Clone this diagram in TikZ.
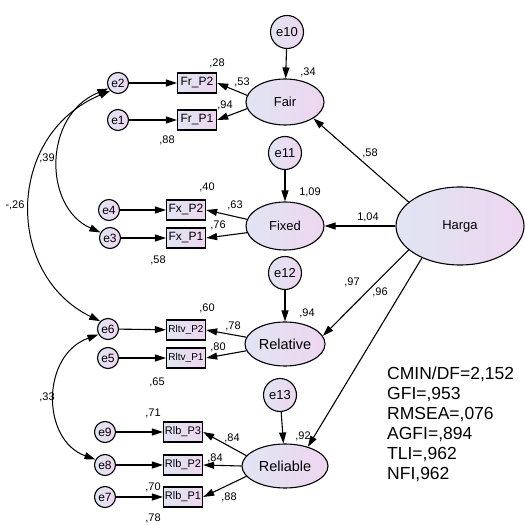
\documentclass[tikz,border=0pt]{standalone}
\usepackage{fontspec}
\setmainfont{Liberation Sans}
\usetikzlibrary{arrows.meta,shapes.geometric}
\definecolor{shadeL}{RGB}{224,229,242}
\definecolor{shadeR}{RGB}{238,214,240}
\begin{document}
\begin{tikzpicture}[x=1pt,y=1pt,>={Triangle[length=11pt,width=7pt]},
  err/.style={circle,draw,line width=1.1pt,left color=shadeL,right color=shadeR,minimum size=21pt,inner sep=0pt,font=\fontsize{12}{12}\selectfont},
  bigerr/.style={err,minimum size=33pt,font=\fontsize{13}{13}\selectfont},
  item/.style={rectangle,draw,line width=1.3pt,left color=shadeL,right color=shadeR,minimum width=39pt,minimum height=20pt,inner sep=0pt,font=\fontsize{12}{12}\selectfont},
  latent/.style={ellipse,draw,line width=1.1pt,left color=shadeL,right color=shadeR,inner sep=0pt,minimum width=78pt,minimum height=46pt,font=\fontsize{13}{13}\selectfont},
  est/.style={inner sep=0pt,font=\fontsize{11}{11}\selectfont},
  arr/.style={->,line width=1.1pt}]
\useasboundingbox (0,0) rectangle (525,525);

% Fair
\node[bigerr] (e10) at (287,493) {e10};
\node[latent] (fair) at (285,423) {Fair};
\node[item] (frp2) at (197,442) {Fr\_P2};
\node[item] (frp1) at (197,405) {Fr\_P1};
\node[err] (e2) at (118,442) {e2};
\node[err] (e1) at (118,405) {e1};

% Fixed
\node[bigerr] (e11) at (285,372) {e11};
\node[latent,minimum height=48pt] (fixed) at (285,299) {Fixed};
\node[item] (fxp2) at (186,315) {Fx\_P2};
\node[item] (fxp1) at (186,287) {Fx\_P1};
\node[err] (e4) at (109,315) {e4};
\node[err] (e3) at (110,287) {e3};

% Relative
\node[bigerr] (e12) at (285,252) {e12};
\node[latent,minimum width=80pt,minimum height=44pt,font=\fontsize{14.5}{14.5}\selectfont] (relative) at (285,181) {Relative};
\node[item,font=\fontsize{10}{10}\selectfont] (rltvp2) at (186,195) {Rltv\_P2};
\node[item,font=\fontsize{10}{10}\selectfont] (rltvp1) at (186,167) {Rltv\_P1};
\node[err] (e6) at (108,196) {e6};
\node[err] (e5) at (108,167) {e5};

% Reliable
\node[bigerr] (e13) at (280,130) {e13};
\node[latent,minimum width=86pt,minimum height=44pt,font=\fontsize{14.5}{14.5}\selectfont] (reliable) at (285,59) {Reliable};
\node[item,font=\fontsize{11}{11}\selectfont] (rlbp3) at (183,93) {Rlb\_P3};
\node[item,font=\fontsize{11}{11}\selectfont] (rlbp2) at (183,60) {Rlb\_P2};
\node[item,font=\fontsize{11}{11}\selectfont] (rlbp1) at (183,28) {Rlb\_P1};
\node[err] (e9) at (105,93) {e9};
\node[err] (e8) at (105,60) {e8};
\node[err] (e7) at (105,28) {e7};

\node[latent,minimum width=128pt,minimum height=78pt] (harga) at (460,299) {Harga};

% errors and loadings
\draw[arr] (e10) -- (fair);
\draw[arr] (e11) -- (fixed);
\draw[arr] (e12) -- (relative);
\draw[arr] (e13) -- (reliable);
\draw[arr] (e2) -- (frp2);
\draw[arr] (e1) -- (frp1);
\draw[arr] (e4) -- (fxp2);
\draw[arr] (e3) -- (fxp1);
\draw[arr] (e6) -- (rltvp2);
\draw[arr] (e5) -- (rltvp1);
\draw[arr] (e9) -- (rlbp3);
\draw[arr] (e8) -- (rlbp2);
\draw[arr] (e7) -- (rlbp1);
\draw[arr] (fair.170) -- (frp2.east);
\draw[arr] (fair.190) -- (frp1.east);
\draw[arr] (fixed.170) -- (fxp2.east);
\draw[arr] (fixed.190) -- (fxp1.east);
\draw[arr] (relative.170) -- (rltvp2.east);
\draw[arr] (relative.190) -- (rltvp1.east);
\draw[arr] (reliable.165) -- (rlbp3.east);
\draw[arr] (reliable.west) -- (rlbp2.east);
\draw[arr] (reliable.195) -- (rlbp1.east);

% Harga
\draw[arr] (harga.155) -- (fair.-30);
\draw[arr] (harga.west) -- (fixed.east);
\draw[arr] (harga.205) -- (relative.12);
\draw[arr] (harga.220) -- (reliable.40);

% covariances
\draw[<->,line width=1pt] (e2.210) .. controls (43,410) and (43,318) .. (e3.150);
\draw[<->,line width=1pt] (e2.225) .. controls (5,390) and (5,250) .. (e6.135);
\draw[<->,line width=1pt] (e6.210) .. controls (41,170) and (41,85) .. (e8.150);

% estimates
\node[est] (v34) at (308,453) {,34};
\node[est] (v28) at (217,462) {,28};
\node[est] (v53) at (242,443) {,53};
\node[est] (v94a) at (225,420) {,94};
\node[est] (v88a) at (167,385) {,88};
\node[est] (v109) at (310,333) {1,09};
\node[est] (v40) at (207,338) {,40};
\node[est] (v63) at (235,320) {,63};
\node[est] (v76) at (218,300) {,76};
\node[est] (v58a) at (158,265) {,58};
\node[est] (v94b) at (307,212) {,94};
\node[est] (v60) at (207,217) {,60};
\node[est] (v78a) at (233,199) {,78};
\node[est] (v80) at (218,178) {,80};
\node[est] (v65) at (157,143) {,65};
\node[est] (v92) at (303,89) {,92};
\node[est] (v71) at (153,112) {,71};
\node[est] (v84a) at (232,87) {,84};
\node[est] (v84b) at (215,67) {,84};
\node[est] (v70) at (153,38) {,70};
\node[est] (v88b) at (229,28) {,88};
\node[est] (v78b) at (153,7) {,78};
\node[est] (v58b) at (370,372) {,58};
\node[est] (v104) at (368,308) {1,04};
\node[est] (v97) at (352,243) {,97};
\node[est] (v96) at (380,233) {,96};
\node[est] (v39) at (47,367) {,39};
\node[est] (v26) at (15,320) {-,26};
\node[est] (v33) at (47,128) {,33};

\node[anchor=north west,align=left,inner sep=0pt,font=\fontsize{17.5}{20}\selectfont] (fit) at (387,158)
  {CMIN/DF=2,152\\GFI=,953\\RMSEA=,076\\AGFI=,894\\TLI=,962\\NFI,962};
\end{tikzpicture}
\end{document}
